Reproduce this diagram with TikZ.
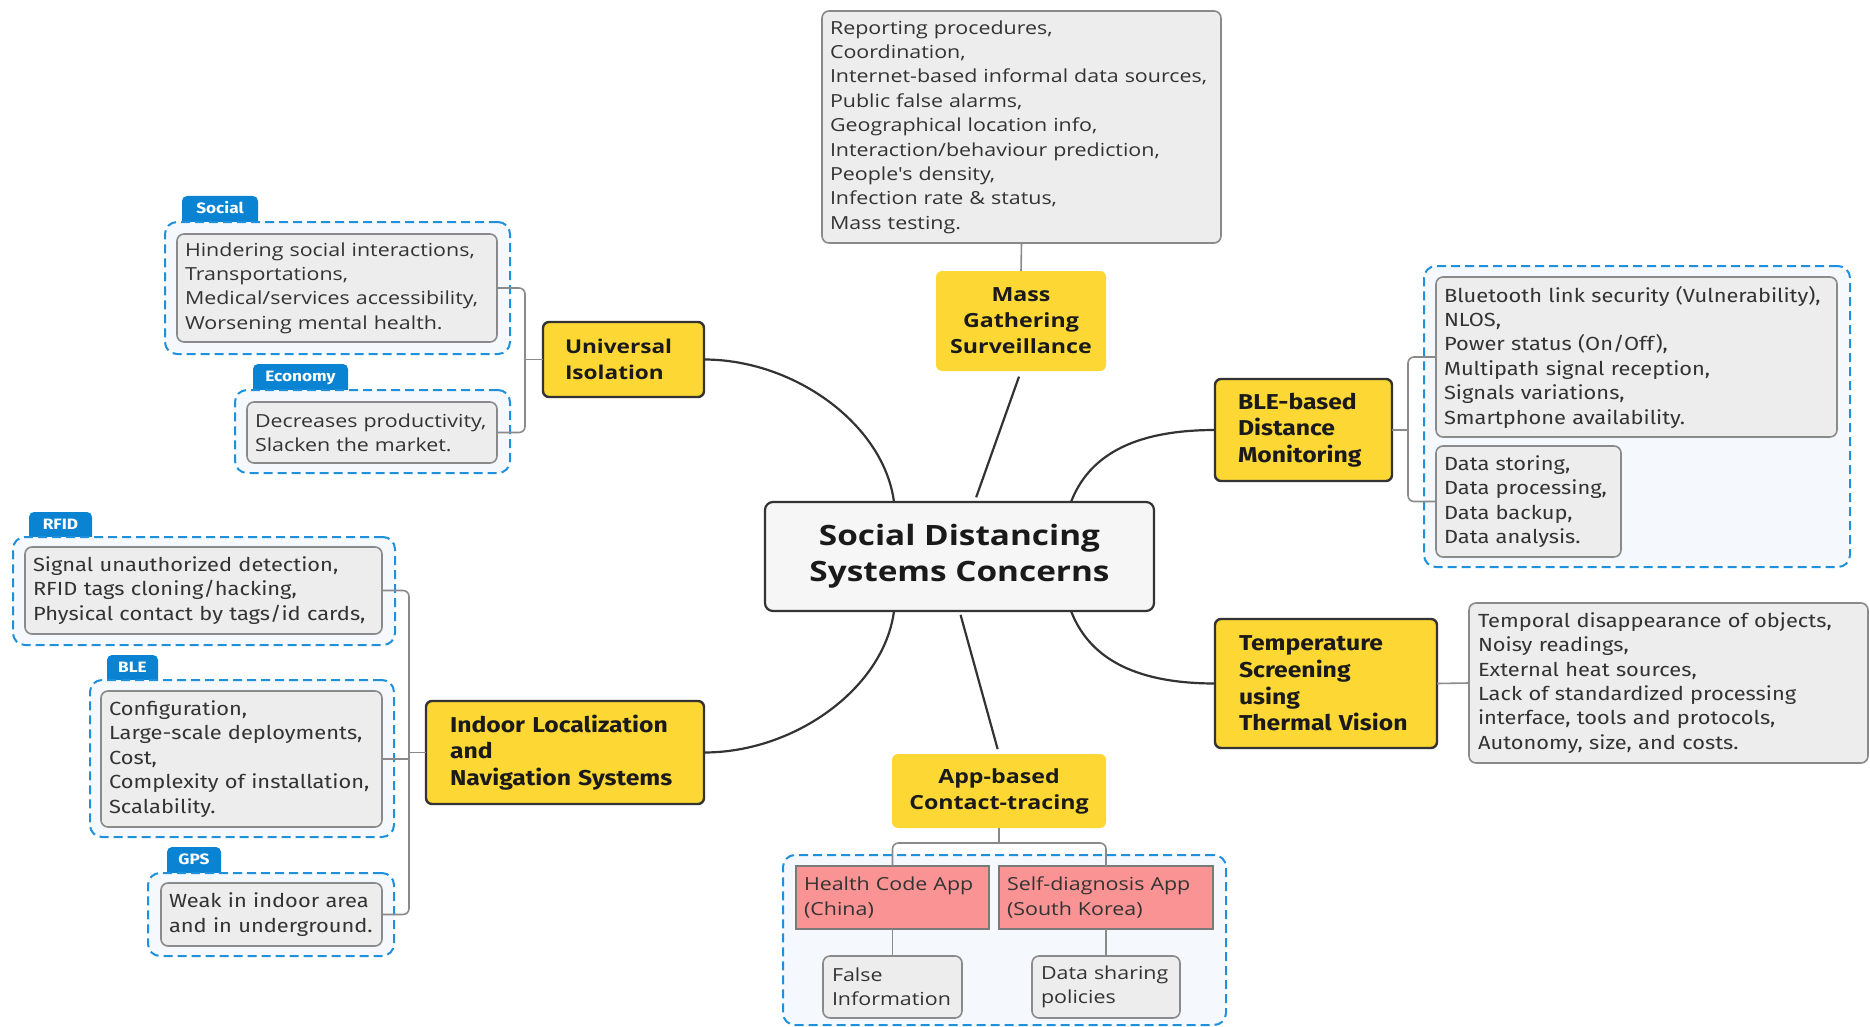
\documentclass[tikz,border=0pt]{standalone}
\usepackage{fontspec}
\setmainfont[FakeStretch=1.15]{Fira Sans}
\newfontfamily\wide[FakeStretch=1.19]{Open Sans}
\usetikzlibrary{calc}
\definecolor{ylw}{HTML}{FDD835}
\definecolor{dline}{HTML}{333333}
\definecolor{gline}{HTML}{8A8A8A}
\definecolor{gfill}{HTML}{EDEDED}
\definecolor{txt}{HTML}{333333}
\definecolor{ttxt}{HTML}{1A1A1A}
\definecolor{dblue}{HTML}{1E90DC}
\definecolor{dfill}{HTML}{F5F9FE}
\definecolor{tagblue}{HTML}{0A84D2}
\definecolor{rfill}{HTML}{FA9494}
\definecolor{rline}{HTML}{7A7A7A}
\begin{document}
\begin{tikzpicture}[x=1pt,y=-1pt,
  every node/.style={inner ysep=0pt, outer sep=0pt},
  sz/.style 2 args={minimum width=#1pt, minimum height=#2pt},
  % long lines may overhang a little instead of wrapping
  nowrap/.style={execute at begin node={\rightskip=0pt plus 1fil minus 30pt}},
  gbox/.style={draw=gline, line width=1.6pt, fill=gfill, rounded corners=7pt,
    anchor=north west, align=left, inner xsep=8pt, text=txt, nowrap,
    font=\fontsize{19}{24.4}\selectfont},
  wbox/.style={gbox, font=\wide\fontsize{18}{24.4}\selectfont},
  rbox/.style={wbox, fill=rfill, draw=rline, rounded corners=0pt},
  dbox/.style={draw=dblue, dashed, dash pattern=on 9pt off 5pt, line width=2pt,
    fill=dfill, rounded corners=12pt, anchor=north west},
  tagbox/.style={anchor=north west, fill=tagblue, rounded corners=5pt, text=white,
    text height=17pt, text depth=14pt, font=\bfseries\fontsize{15}{15}\selectfont},
  ybox/.style={fill=ylw, draw=dline, line width=2.4pt, rounded corners=6pt,
    anchor=north west, align=left, text=ttxt, nowrap,
    font=\bfseries\fontsize{21.5}{26.7}\selectfont},
  wtitle/.style={fill=ylw, rounded corners=6pt, align=center, text=ttxt,
    font=\wide\bfseries\fontsize{19.5}{26}\selectfont},
  main/.style={draw=dline, line width=2.2pt},
  brk/.style={draw=gline, line width=1.6pt, rounded corners=6pt},
]
\useasboundingbox (0,0) rectangle (1870,1027);

% ---- centre ----
\node[draw=dline, line width=2.2pt, fill=gfill!50, rounded corners=8pt, sz={389}{109},
  align=center, text=ttxt, font=\wide\bfseries\fontsize{28}{36}\selectfont]
  (ctr) at (959.5,556.5) {Social Distancing\\Systems Concerns};

% ---- mass gathering ----
\node[wbox, sz={399}{232}, text width=383pt] (mg) at (822,11)
  {Reporting procedures,\\Coordination,\\Internet-based informal data sources,\\Public false alarms,\\Geographical location info,\\Interaction/behaviour prediction,\\People's density,\\Infection rate \& status,\\Mass testing.};
\node[wtitle, sz={170}{100}] (mass) at (1021,321) {Mass\\Gathering\\Surveillance};

% ---- universal isolation ----
\node[ybox, sz={161}{75}, inner xsep=22pt, text width=117pt,
  font=\wide\bfseries\fontsize{19}{26.7}\selectfont] (uni) at (543,322) {Universal\\Isolation};
\node[tagbox, sz={76}{31}] (tsoc) at (182,196) {Social};
\node[dbox, sz={345}{132}] (socd) at (165,222) {};
\node[wbox, sz={320}{108}, text width=304pt] (soc) at (177,234)
  {Hindering social interactions,\\Transportations,\\Medical/services accessibility,\\Worsening mental health.};
\node[tagbox, sz={95}{31}] (teco) at (253,364) {Economy};
\node[dbox, sz={275}{83}] (ecod) at (235,390) {};
\node[wbox, sz={250}{61}, text width=234pt] (eco) at (247,402)
  {Decreases productivity,\\Slacken the market.};

% ---- indoor localization ----
\node[ybox, sz={278}{103}, inner xsep=24pt, text width=230pt] (ind) at (426,701)
  {Indoor Localization\\and\\Navigation Systems};
\node[tagbox, sz={63}{30}] (trfid) at (29,512) {RFID};
\node[dbox, sz={382}{108}] (rfidd) at (13,537) {};
\node[gbox, sz={357}{87}, text width=341pt] (rfidg) at (25,547)
  {Signal unauthorized detection,\\RFID tags cloning/hacking,\\Physical contact by tags/id cards,};
\node[tagbox, sz={51}{30}] (tble) at (107,655) {BLE};
\node[dbox, sz={304}{157}] (bled) at (90,680) {};
\node[gbox, sz={281}{136}, text width=265pt] (bleg) at (101,691)
  {Configuration,\\Large-scale deployments,\\Cost,\\Complexity of installation,\\Scalability.};
\node[tagbox, sz={54}{31}] (tgps) at (167,847) {GPS};
\node[dbox, sz={246}{83}] (gpsd) at (148,873) {};
\node[gbox, sz={221}{63}, text width=205pt] (gpsg) at (161,883)
  {Weak in indoor area\\and in underground.};

% ---- BLE-based distance monitoring ----
\node[ybox, sz={177}{102}, inner xsep=23pt, text width=131pt] (bleb) at (1215,379)
  {BLE-based\\Distance\\Monitoring};
\node[dbox, sz={426}{301}] (blerd) at (1424,266) {};
\node[gbox, sz={401}{160}, text width=385pt] (ble1) at (1436,277)
  {Bluetooth link security (Vulnerability),\\NLOS,\\Power status (On/Off),\\Multipath signal reception,\\Signals variations,\\Smartphone availability.};
\node[gbox, sz={185}{111}, text width=169pt] (ble2) at (1436,446)
  {Data storing,\\Data processing,\\Data backup,\\Data analysis.};

% ---- temperature screening ----
\node[ybox, sz={222}{129}, inner xsep=24pt, text width=174pt] (temp) at (1215,619)
  {Temperature\\Screening\\using\\Thermal Vision};
\node[gbox, sz={399}{160}, inner xsep=9pt, text width=381pt] (tempg) at (1469,603)
  {Temporal disappearance of objects,\\Noisy readings,\\External heat sources,\\Lack of standardized processing\\interface, tools and protocols,\\Autonomy, size, and costs.};

% ---- app-based contact tracing ----
\node[wtitle, sz={214}{74}] (app) at (999,791) {App-based\\Contact-tracing};
\node[dbox, sz={443}{170}] (appd) at (783,855) {};
\node[rbox, sz={193}{63}, text width=177pt] (hca) at (796,866) {Health Code App\\(China)};
\node[rbox, sz={214}{63}, text width=198pt] (sda) at (999,866) {Self-diagnosis App\\(South Korea)};
\node[wbox, sz={139}{62}, inner xsep=9pt, text width=121pt] (fi) at (823,956) {False\\Information};
\node[wbox, sz={148}{62}, inner xsep=9pt, text width=130pt] (dsp) at (1032,956) {Data sharing\\policies};

% ---- branches from the centre ----
\draw[main] ($(ctr.north)+(-65.5,0)$) .. controls (884,425) and (795,359.5) .. (uni.east);
\draw[main] ($(ctr.south)+(-65.5,0)$) .. controls (884,688) and (795,752.5) .. (ind.east);
\draw[main] ($(ctr.north)+(111.5,0)$) .. controls (1088,458) and (1130,430) .. (bleb.west);
\draw[main] ($(ctr.south)+(111.5,0)$) .. controls (1088,655) and (1130,683.5) .. (temp.west);
\draw[main, shorten <=5pt, shorten >=6pt] ($(ctr.north)+(15,0)$) -- (mass.south);
\draw[main, shorten <=4pt, shorten >=5pt] (ctr.south) -- (app.north);

% ---- sub-branches ----
\draw[brk] (mg.south) -- (mass.north);
\draw[brk] (uni.west) -- ++(-18,0);
\draw[brk] (soc.east) -| ($(uni.west)+(-18,0)$) |- (eco.east);
\draw[brk] (ind.west) -- ++(-17,0);
\draw[brk] (rfidg.east) -| ($(ind.west)+(-17,0)$) |- (gpsg.east);
\draw[brk] (bleg.east) -- (bleg.east -| {$(ind.west)+(-17,0)$});
\draw[brk] (bleb.east) -- ++(16,0);
\draw[brk] (ble1.west) -| ($(bleb.east)+(16,0)$) |- (ble2.west);
\draw[brk] (temp.east) -- (tempg.west);
\draw[brk] (app.south) -- ++(0,15);
\draw[brk] (hca.north) |- ($(app.south)+(0,15)$) -| (sda.north);
\draw[brk] (hca.south) -- (fi.north);
\draw[brk] (sda.south) -- (dsp.north);
\end{tikzpicture}
\end{document}
